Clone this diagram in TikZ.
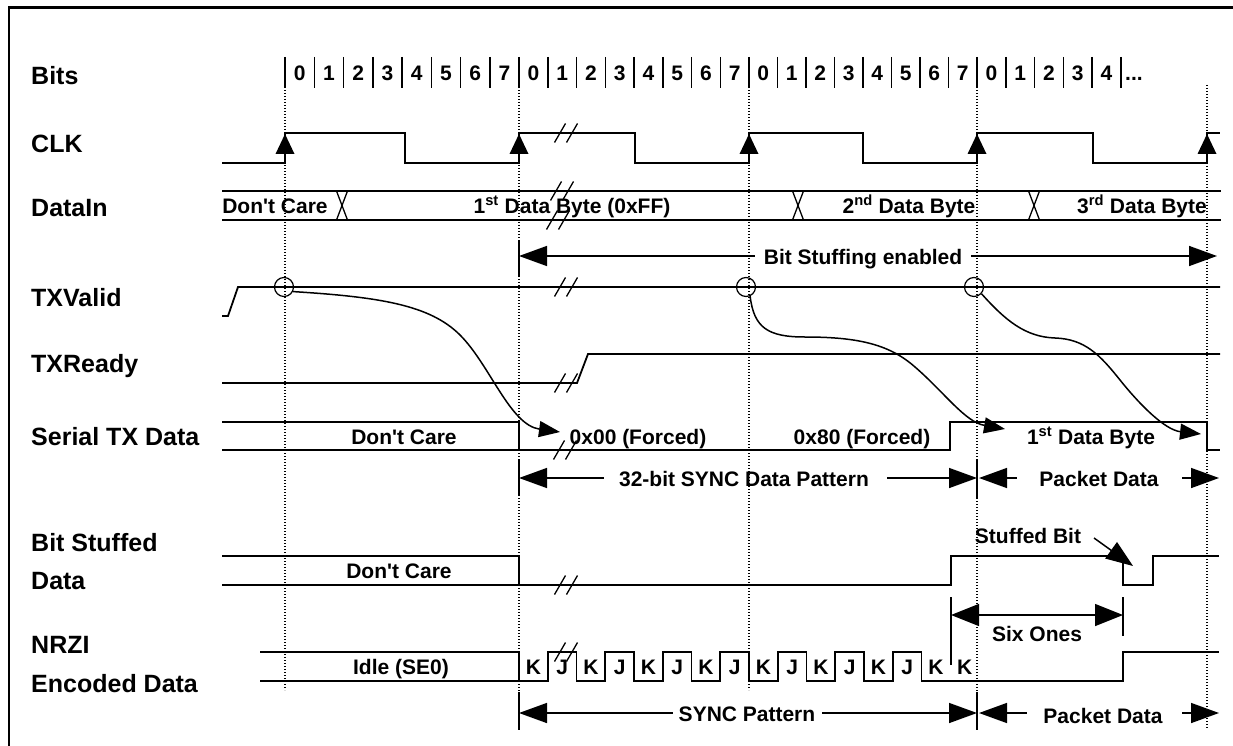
\documentclass[tikz,border=0pt]{standalone}
\usepackage{fontspec}
\setmainfont{Liberation Sans}
\usetikzlibrary{arrows.meta}
\tikzset{
  BigT/.tip={Triangle[length=28pt,width=20pt]},
  SixT/.tip={Triangle[length=28pt,width=22pt]},
  CurT/.tip={Triangle[length=21pt,width=16pt]},
  StfT/.tip={Triangle[length=27pt,width=20pt]},
}
\newcommand\brkmark[2]{\draw[brk] (#1-11.5,#2+9.5) -- (#1-0.5,#2-9.5) (#1+0.5,#2+9.5) -- (#1+11.5,#2-9.5);}
\begin{document}
\begin{tikzpicture}[x=1pt,y=-1pt,
  sig/.style={line width=1.8pt, line join=miter},
  dots/.style={line width=1.3pt, dash pattern=on 1.3pt off 1.7pt},
  tick/.style={line width=1.5pt},
  brk/.style={line width=1.3pt},
  ar/.style={line width=1.5pt},
  cur/.style={line width=1.5pt},
  lbl/.style={anchor=base west, inner sep=0pt, font=\fontsize{25}{30}\selectfont\bfseries},
  txt/.style={anchor=base, inner sep=0pt, font=\fontsize{21}{25}\selectfont\bfseries},
  ring/.style={circle, draw, line width=1.2pt, minimum size=19pt, inner sep=0pt},
]
\useasboundingbox (0,0) rectangle (1233,746);
% border
\draw[line width=2.5pt] (9,746) -- (9,7.5) -- (1233,7.5);

% labels
\node[lbl] (lBits) at (31,85) {Bits};
\node[lbl] (lCLK) at (31,153) {CLK};
\node[lbl] (lDataIn) at (31,216) {DataIn};
\node[lbl] (lTXV) at (31,306) {TXValid};
\node[lbl] (lTXR) at (31,372) {TXReady};
\node[lbl] (lSer) at (31,445) {Serial TX Data};
\node[lbl] (lBS1) at (31,551) {Bit Stuffed};
\node[lbl] (lBS2) at (31,589) {Data};
\node[lbl] (lNR1) at (31,653) {NRZI};
\node[lbl] (lNR2) at (31,692) {Encoded Data};

% dotted guide lines
\draw[dots] (285,72) -- (285,690);
\draw[dots] (519,72) -- (519,730);
\draw[dots] (749,72) -- (749,690);
\draw[dots] (977,72) -- (977,730);
\draw[dots] (1207,85) -- (1207,728);

% bits row
\foreach \s/\w/\n in {285/29.25/7, 519/28.75/7, 749/28.5/7, 977/28.75/4} {
  \foreach \k in {0,...,\n} {
    \draw[tick] (\s+\k*\w,57) -- (\s+\k*\w,88);
    \node[txt] (d-\s-\k) at (\s+\k*\w+\w/2,81) {\k};
  }
}
\draw[tick] (1120.75,57) -- (1120.75,88);
\node[txt, anchor=base west] (dots) at (1125,81) {...};

% CLK
\draw[sig] (222,163) -- (285,163) -- (285,133) -- (405,133) -- (405,163) -- (519,163) -- (519,133) -- (635,133) -- (635,163) -- (749,163) -- (749,133) -- (863,133) -- (863,163) -- (977,163) -- (977,133) -- (1093,133) -- (1093,163) -- (1207,163) -- (1207,133) -- (1220,133);
\foreach \x in {285,519,749,977,1207} {
  \fill (\x,134) -- (\x-9.5,154) -- (\x+9.5,154) -- cycle;
}
\brkmark{566}{133}

% DataIn
\draw[sig] (222,191) -- (1221,191);
\draw[sig] (222,220) -- (1221,220);
\foreach \x in {342,798,1034} {
  \draw[brk] (\x-5.5,191) -- (\x+5.5,220) (\x+5.5,191) -- (\x-5.5,220);
}
\brkmark{562}{191}
\brkmark{558}{220}
\node[txt] (dinA) at (275,213) {Don\textquotesingle t Care};
\node[txt] (dinB) at (572,213) {1\textsuperscript{st} Data Byte (0xFF)};
\node[txt] (dinC) at (909,213) {2\textsuperscript{nd} Data Byte};
\node[txt] (dinD) at (1142,213) {3\textsuperscript{rd} Data Byte};

% Bit stuffing enabled
\draw[tick] (519,240) -- (519,277);
\node[txt] (bse) at (863,264) {Bit Stuffing enabled};
\coordinate (bseA) at (519,256);
\coordinate (bseB) at (755,256);
\coordinate (bseC) at (971,256);
\coordinate (bseD) at (1217,256);
\draw[ar,{BigT}-] (bseA) -- (bseB);
\draw[ar,-{BigT}] (bseC) -- (bseD);

% TXValid
\draw[sig] (222,316) -- (228,316) -- (238,287) -- (1220,287);
\brkmark{566}{287}
\node[ring] (c1) at (284,287) {};
\node[ring] (c2) at (746,287) {};
\node[ring] (c3) at (974,287) {};

% TXReady
\draw[sig] (222,383) -- (577,383) -- (588,354) -- (1220,354);
\brkmark{566}{383}

% Serial TX Data
\draw[sig] (222,422) -- (519,422) -- (519,450);
\draw[sig] (222,450) -- (950,450) -- (950,422) -- (1207,422) -- (1207,450) -- (1220,450);
\brkmark{565}{450}
\node[txt] (serA) at (404,444) {Don\textquotesingle t Care};
\node[txt] (serB) at (638,444) {0x00 (Forced)};
\node[txt] (serC) at (862,444) {0x80 (Forced)};
\node[txt] (serD) at (1091,444) {1\textsuperscript{st} Data Byte};

% causal curves
\coordinate (t1) at (560,432);
\coordinate (t2) at (1005,429);
\coordinate (t3) at (1201,434);
\draw[cur,-{CurT}] (c1.-27) .. controls (380,297) and (430,305) .. (460,335) .. controls (490,365) and (510,425) .. (t1);
\draw[cur,-{CurT}] (c2.-66) .. controls (754,328) and (768,337) .. (805,337) .. controls (860,337) and (890,345) .. (915,367) .. controls (945,393) and (965,422) .. (t2);
\draw[cur,-{CurT}] (c3.-42) .. controls (1005,320) and (1025,337) .. (1055,338) .. controls (1085,339) and (1100,355) .. (1120,380) .. controls (1140,405) and (1165,430) .. (t3);

% 32-bit SYNC Data Pattern / Packet Data
\draw[tick] (519,460) -- (519,496);
\draw[tick] (977,460) -- (977,498);
\node[txt] (syd) at (744,486) {32-bit SYNC Data Pattern};
\coordinate (sydA) at (519,478);
\coordinate (sydB) at (604,478);
\coordinate (sydC) at (887,478);
\coordinate (sydD) at (977,478);
\draw[ar,{BigT}-] (sydA) -- (sydB);
\draw[ar,-{BigT}] (sydC) -- (sydD);
\node[txt] (pd1) at (1099,486) {Packet Data};
\coordinate (pd1A) at (979,478);
\coordinate (pd1B) at (1017,478);
\coordinate (pd1C) at (1182,478);
\coordinate (pd1D) at (1219,478);
\draw[ar,{BigT}-] (pd1A) -- (pd1B);
\draw[ar,-{BigT}] (pd1C) -- (pd1D);

% Bit Stuffed Data
\draw[sig] (222,556) -- (519,556) -- (519,585);
\draw[sig] (222,585) -- (951,585) -- (951,556) -- (1123,556) -- (1123,585) -- (1153,585) -- (1153,556) -- (1219,556);
\brkmark{566}{585}
\node[txt] (bsA) at (399,578) {Don\textquotesingle t Care};
\node[txt] (stb) at (1028,543) {Stuffed Bit};
\coordinate (stbA) at (1094,538);
\coordinate (stbB) at (1133,566);
\draw[ar,-{StfT}] (stbA) -- (stbB);

% Six Ones
\draw[tick] (951,597) -- (951,665);
\draw[tick] (1123,597) -- (1123,636);
\coordinate (soA) at (951,615);
\coordinate (soB) at (1123,615);
\draw[ar,{SixT}-{SixT}] (soA) -- (soB);
\node[txt] (so) at (1037,641) {Six Ones};

% NRZI
\draw[sig] (260,652) -- (519,652) -- (519,681);
\draw[sig] (260,681) -- (519,681) -- (547.75,681) -- (547.75,652) -- (576.5,652) -- (576.5,681) -- (605.25,681) -- (605.25,652) -- (634,652) -- (634,681) -- (662.75,681) -- (662.75,652) -- (691.5,652) -- (691.5,681) -- (720.25,681) -- (720.25,652) -- (749,652) -- (749,681) -- (777.75,681) -- (777.75,652) -- (806.5,652) -- (806.5,681) -- (835.25,681) -- (835.25,652) -- (864,652) -- (864,681) -- (892.75,681) -- (892.75,652) -- (921.5,652) -- (921.5,681) -- (1123,681) -- (1123,652) -- (1219,652);
\brkmark{566}{652}
\node[txt] (idle) at (401,674) {Idle (SE0)};
\foreach \i/\l in {0/K,1/J,2/K,3/J,4/K,5/J,6/K,7/J,8/K,9/J,10/K,11/J,12/K,13/J,14/K,15/K} {
  \node[txt] (kj-\i) at (519+\i*28.75+14.375,674) {\l};
}

% SYNC Pattern / Packet Data
\draw[tick] (519,692) -- (519,730);
\draw[tick] (977,692) -- (977,730);
\node[txt] (syn) at (747,721) {SYNC Pattern};
\coordinate (synA) at (519,713);
\coordinate (synB) at (673,713);
\coordinate (synC) at (822,713);
\coordinate (synD) at (977,713);
\draw[ar,{BigT}-] (synA) -- (synB);
\draw[ar,-{BigT}] (synC) -- (synD);
\node[txt] (pd2) at (1103,723) {Packet Data};
\coordinate (pd2A) at (979,713);
\coordinate (pd2B) at (1027,713);
\coordinate (pd2C) at (1182,713);
\coordinate (pd2D) at (1219,713);
\draw[ar,{BigT}-] (pd2A) -- (pd2B);
\draw[ar,-{BigT}] (pd2C) -- (pd2D);
\end{tikzpicture}
\end{document}
